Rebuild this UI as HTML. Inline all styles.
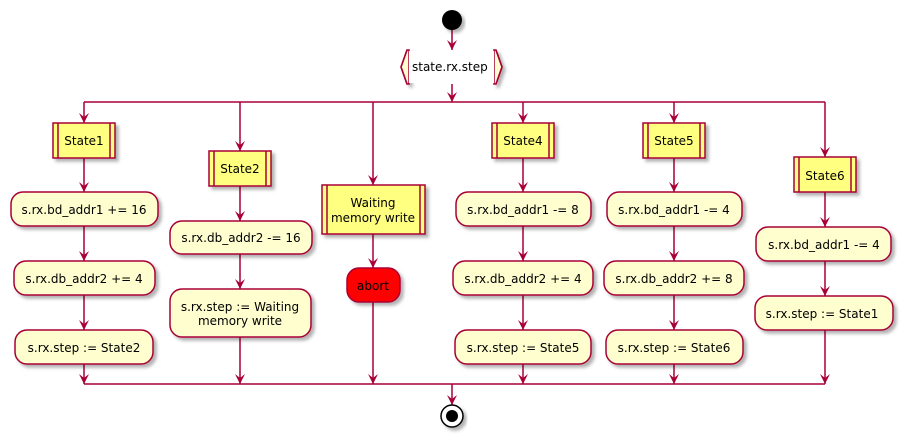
<!DOCTYPE html>
<html><head><meta charset="utf-8"><style>
html,body{margin:0;padding:0;background:#fff;width:903px;height:436px;overflow:hidden}
svg text{font-family:"DejaVu Sans","Liberation Sans",sans-serif;font-size:12px;fill:#000}
</style></head><body>
<svg width="903" height="436" viewBox="0 0 903 436" xmlns="http://www.w3.org/2000/svg">
<defs>
<filter id="sh" x="-10%" y="-10%" width="130%" height="140%"><feDropShadow dx="3" dy="3" stdDeviation="1.5" flood-color="#000" flood-opacity="0.3"/></filter>
<marker id="ar" markerWidth="12" markerHeight="12" refX="10" refY="5" orient="auto" markerUnits="userSpaceOnUse"><path d="M0,0 L10,5 L0,10 L4,5 Z" fill="#A80036"/></marker>
</defs>
<g stroke="#A80036" stroke-width="1.5" fill="none">
<!-- start -> hex -->
<line x1="452" y1="30" x2="452" y2="50" marker-end="url(#ar)"/>
<line x1="452" y1="84" x2="452" y2="102" marker-end="url(#ar)"/>
<line x1="84" y1="102" x2="825" y2="102"/>
<line x1="84" y1="102" x2="84" y2="123" marker-end="url(#ar)"/>
<line x1="240" y1="102" x2="240" y2="151" marker-end="url(#ar)"/>
<line x1="373" y1="102" x2="373" y2="185" marker-end="url(#ar)"/>
<line x1="523" y1="102" x2="523" y2="123" marker-end="url(#ar)"/>
<line x1="674" y1="102" x2="674" y2="123" marker-end="url(#ar)"/>
<line x1="825" y1="102" x2="825" y2="157" marker-end="url(#ar)"/>
<!-- col1 -->
<line x1="84" y1="158" x2="84" y2="192" marker-end="url(#ar)"/>
<line x1="84" y1="226" x2="84" y2="261" marker-end="url(#ar)"/>
<line x1="84" y1="295" x2="84" y2="330" marker-end="url(#ar)"/>
<line x1="84" y1="364" x2="84" y2="384" marker-end="url(#ar)"/>
<!-- col2 -->
<line x1="240" y1="186" x2="240" y2="221" marker-end="url(#ar)"/>
<line x1="240" y1="254" x2="240" y2="289" marker-end="url(#ar)"/>
<line x1="240" y1="337" x2="240" y2="384" marker-end="url(#ar)"/>
<!-- col3 -->
<line x1="373" y1="234" x2="373" y2="268" marker-end="url(#ar)"/>
<line x1="373" y1="302" x2="373" y2="384" marker-end="url(#ar)"/>
<!-- col4 -->
<line x1="523" y1="158" x2="523" y2="192" marker-end="url(#ar)"/>
<line x1="523" y1="226" x2="523" y2="261" marker-end="url(#ar)"/>
<line x1="523" y1="295" x2="523" y2="330" marker-end="url(#ar)"/>
<line x1="523" y1="364" x2="523" y2="384" marker-end="url(#ar)"/>
<!-- col5 -->
<line x1="674" y1="158" x2="674" y2="192" marker-end="url(#ar)"/>
<line x1="674" y1="226" x2="674" y2="261" marker-end="url(#ar)"/>
<line x1="674" y1="295" x2="674" y2="330" marker-end="url(#ar)"/>
<line x1="674" y1="364" x2="674" y2="384" marker-end="url(#ar)"/>
<!-- col6 -->
<line x1="825" y1="192" x2="825" y2="227" marker-end="url(#ar)"/>
<line x1="825" y1="261" x2="825" y2="296" marker-end="url(#ar)"/>
<line x1="825" y1="330" x2="825" y2="384" marker-end="url(#ar)"/>
<line x1="84" y1="384" x2="825" y2="384"/>
<line x1="452" y1="384" x2="452" y2="405" marker-end="url(#ar)"/>
</g>
<!-- start/end -->
<circle cx="452" cy="20" r="10" fill="#000" filter="url(#sh)"/>
<circle cx="452" cy="416" r="11" fill="#fff" stroke="#000" stroke-width="1.5" filter="url(#sh)"/>
<circle cx="452" cy="416" r="6" fill="#000"/>
<!-- hex -->
<g filter="url(#sh)" stroke="#A80036" stroke-width="1.5" fill="#FEFECE">
<polygon points="407,50 401,67 407,84 409,84 409,50"/>
<polygon points="496,50 502,67 496,84 494,84 494,50"/>
</g>
<rect x="409" y="51" width="85" height="32" fill="#fff"/>
<polyline points="407,50 401,67 407,84" fill="none" stroke="#A80036" stroke-width="1.5"/>
<polyline points="496,50 502,67 496,84" fill="none" stroke="#A80036" stroke-width="1.5"/>
<text x="412" y="71">state.rx.step</text>
<!-- state boxes -->
<g stroke="#A80036" stroke-width="1.5" fill="#FFFF80" filter="url(#sh)">
<rect x="53" y="123" width="62" height="35"/>
<rect x="209" y="151" width="62" height="35"/>
<rect x="322" y="185" width="103" height="49"/>
<rect x="492" y="123" width="62" height="35"/>
<rect x="643" y="123" width="62" height="35"/>
<rect x="794" y="157" width="62" height="35"/>
</g>
<g stroke="#A80036" stroke-width="1.5">
<line x1="58" y1="123" x2="58" y2="158"/><line x1="110" y1="123" x2="110" y2="158"/>
<line x1="214" y1="151" x2="214" y2="186"/><line x1="266" y1="151" x2="266" y2="186"/>
<line x1="327" y1="185" x2="327" y2="234"/><line x1="420" y1="185" x2="420" y2="234"/>
<line x1="497" y1="123" x2="497" y2="158"/><line x1="549" y1="123" x2="549" y2="158"/>
<line x1="648" y1="123" x2="648" y2="158"/><line x1="700" y1="123" x2="700" y2="158"/>
<line x1="799" y1="157" x2="799" y2="192"/><line x1="851" y1="157" x2="851" y2="192"/>
</g>
<g text-anchor="middle">
<text x="84" y="145">State1</text>
<text x="240" y="173">State2</text>
<text x="373" y="207">Waiting</text>
<text x="373" y="222">memory write</text>
<text x="523" y="145">State4</text>
<text x="674" y="145">State5</text>
<text x="825" y="180">State6</text>
</g>
<!-- actions -->
<g stroke="#A80036" stroke-width="1.5" fill="#FEFECE" filter="url(#sh)">
<rect x="11" y="192" width="147" height="34" rx="12"/>
<rect x="14" y="261" width="141" height="34" rx="12"/>
<rect x="15" y="330" width="138" height="34" rx="12"/>
<rect x="170" y="221" width="142" height="33" rx="12"/>
<rect x="170" y="289" width="141" height="48" rx="12"/>
<rect x="347" y="268" width="53" height="34" rx="12" fill="#FF0000"/>
<rect x="456" y="192" width="135" height="34" rx="12"/>
<rect x="453" y="261" width="140" height="34" rx="12"/>
<rect x="455" y="330" width="136" height="34" rx="12"/>
<rect x="607" y="192" width="135" height="34" rx="12"/>
<rect x="604" y="261" width="140" height="34" rx="12"/>
<rect x="606" y="330" width="137" height="34" rx="12"/>
<rect x="756" y="227" width="135" height="34" rx="12"/>
<rect x="755" y="296" width="138" height="34" rx="12"/>
</g>
<g text-anchor="middle">
<text x="84" y="214">s.rx.bd_addr1 += 16</text>
<text x="84" y="283">s.rx.db_addr2 += 4</text>
<text x="84" y="352">s.rx.step := State2</text>
<text x="241" y="242">s.rx.db_addr2 -= 16</text>
<text x="240" y="311">s.rx.step := Waiting</text>
<text x="240" y="325">memory write</text>
<text x="373" y="290">abort</text>
<text x="523" y="214">s.rx.bd_addr1 -= 8</text>
<text x="523" y="283">s.rx.db_addr2 += 4</text>
<text x="523" y="352">s.rx.step := State5</text>
<text x="674" y="214">s.rx.bd_addr1 -= 4</text>
<text x="674" y="283">s.rx.db_addr2 += 8</text>
<text x="674" y="352">s.rx.step := State6</text>
<text x="824" y="249">s.rx.bd_addr1 -= 4</text>
<text x="822" y="318">s.rx.step := State1</text>
</g>
</svg>
</body></html>
